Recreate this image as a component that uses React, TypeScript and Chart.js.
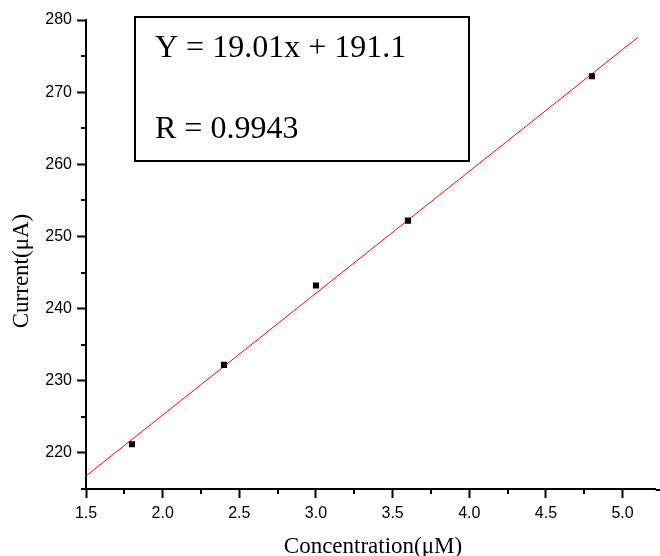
import React, { useEffect, useRef } from "react";
import { Chart, registerables } from "chart.js";

Chart.register(...registerables);

// Measured data (Concentration in µM vs Current in µA)
const concentration = [1.8, 2.4, 3.0, 3.6, 4.8];
const current = [221.2, 232.2, 243.2, 252.2, 272.2];

// Fitted line end points
const fitX = [1.5, 5.1];
const fitY = [216.8, 277.6];

const equationLines = ["Y = 19.01x + 191.1", "R = 0.9943"];
const xTitle = "Concentration(μM)";
const yTitle = "Current(μA)";

const xMin = 1.5;
const xMax = 5.216;
const yMin = 215;
const yMax = 280;
const xMinorTicks = [1.75, 2.25, 2.75, 3.25, 3.75, 4.25, 4.75];
const yMinorTicks = [215, 225, 235, 245, 255, 265, 275];

const serif = "'Liberation Serif', 'Times New Roman', serif";
const sans = "'Liberation Sans', Arial, sans-serif";

const extras = {
  id: "extras",
  afterDraw(chart: any) {
    const ctx = chart.ctx;
    const xs = chart.scales.x;
    const ys = chart.scales.y;
    const ca = chart.chartArea;
    ctx.save();
    ctx.strokeStyle = "#000";
    ctx.lineWidth = 2;
    // minor ticks
    ctx.beginPath();
    xMinorTicks.forEach((v) => {
      const px = Math.round(xs.getPixelForValue(v));
      ctx.moveTo(px, ca.bottom);
      ctx.lineTo(px, ca.bottom + 5);
    });
    yMinorTicks.forEach((v) => {
      const py = Math.round(ys.getPixelForValue(v));
      ctx.moveTo(ca.left, py);
      ctx.lineTo(ca.left - 5, py);
    });
    ctx.stroke();
    // extend the x axis line to the canvas edge
    ctx.beginPath();
    ctx.moveTo(ca.right, ca.bottom + 1);
    ctx.lineTo(chart.width, ca.bottom + 1);
    ctx.stroke();
    // equation box
    const bx = ca.left + 49;
    const by = ca.top - 3;
    const bw = 334;
    const bh = 144;
    ctx.lineWidth = 2;
    ctx.strokeRect(bx, by, bw, bh);
    ctx.fillStyle = "#000";
    ctx.font = `32px ${serif}`;
    ctx.textAlign = "left";
    ctx.textBaseline = "alphabetic";
    ctx.fillText(equationLines[0], bx + 20, by + 40);
    ctx.fillText(equationLines[1], bx + 20, by + 121);
    // axis titles
    ctx.font = `23px ${serif}`;
    ctx.textAlign = "center";
    ctx.fillText(xTitle, 373, 553);
    ctx.translate(28, 271);
    ctx.rotate(-Math.PI / 2);
    ctx.fillText(yTitle, 0, 0);
    ctx.restore();
  },
};

export default function App() {
  const ref = useRef<HTMLCanvasElement | null>(null);
  useEffect(() => {
    if (!ref.current) return;
    const chart = new Chart(ref.current, {
      type: "scatter",
      data: {
        datasets: [
          {
            type: "line",
            label: "fit",
            data: fitX.map((x, i) => ({ x, y: fitY[i] })),
            borderColor: "#ff0000",
            borderWidth: 1,
            pointRadius: 0,
            fill: false,
            order: 2,
          },
          {
            label: "data",
            data: concentration.map((x, i) => ({ x, y: current[i] })),
            pointStyle: "rect",
            pointRadius: 4.3,
            backgroundColor: "#000",
            borderColor: "#000",
            borderWidth: 0,
            order: 1,
          },
        ],
      },
      options: {
        animation: false,
        responsive: false,
        devicePixelRatio: 1,
        layout: { padding: { left: 0, top: 20, right: 0, bottom: 0 } },
        plugins: {
          legend: { display: false },
          tooltip: { enabled: false },
        },
        scales: {
          x: {
            type: "linear",
            min: xMin,
            max: xMax,
            afterFit: (s: any) => {
              s.height = 67;
              s.paddingLeft = 0;
              s.paddingRight = 0;
            },
            border: { display: true, color: "#000", width: 2 },
            grid: {
              display: true,
              drawOnChartArea: false,
              drawTicks: true,
              tickLength: 9,
              tickWidth: 2,
              tickColor: "#000",
            },
            ticks: {
              stepSize: 0.5,
              includeBounds: false,
              color: "#000",
              padding: 6,
              maxRotation: 0,
              font: { family: sans, size: 16 },
              callback: (v: any) => Number(v).toFixed(1),
            },
            title: { display: false },
          },
          y: {
            type: "linear",
            min: yMin,
            max: yMax,
            afterFit: (s: any) => {
              s.width = 86;
              s.paddingTop = 0;
              s.paddingBottom = 0;
            },
            border: { display: true, color: "#000", width: 2 },
            grid: {
              display: true,
              drawOnChartArea: false,
              drawTicks: true,
              tickLength: 9,
              tickWidth: 2,
              tickColor: "#000",
            },
            ticks: {
              stepSize: 10,
              includeBounds: false,
              color: "#000",
              padding: 5,
              font: { family: sans, size: 16 },
            },
            title: { display: false },
          },
        },
      },
      plugins: [extras],
    } as any);
    return () => chart.destroy();
  }, []);
  return (
    <div style={{ position: "absolute", left: 0, top: 0, width: 660, height: 556, background: "#fff" }}>
      <canvas ref={ref} width={660} height={556} />
    </div>
  );
}
